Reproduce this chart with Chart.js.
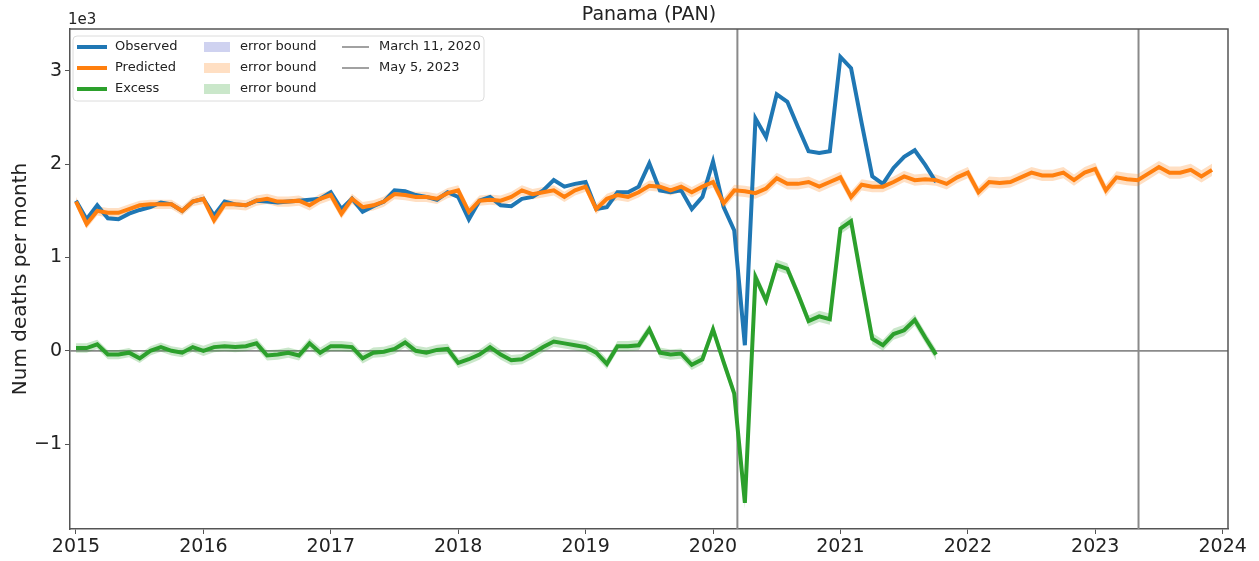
<!DOCTYPE html>
<html>
<head>
<meta charset="utf-8">
<script src="https://cdn.jsdelivr.net/npm/chart.js@4"></script>
<style>
  body { margin: 0; background: #fff; }
  canvas { display: block; }
</style>
</head>
<body>
<canvas id="grafico" width="1259" height="561"></canvas>
<script>
// monthly series, first month = January 2015
const startYear = 2015;
const yearTicks = [2015, 2016, 2017, 2018, 2019, 2020, 2021, 2022, 2023, 2024];
const yTicks = [-1000, 0, 1000, 2000, 3000];

const observed = [
  1610, 1410, 1560, 1420, 1410, 1470, 1510, 1540, 1590, 1570, 1500, 1600,
  1630, 1450, 1600, 1570, 1560, 1610, 1600, 1590, 1600, 1610, 1620, 1630,
  1700, 1520, 1630, 1490, 1550, 1600, 1720, 1710, 1670, 1650, 1620, 1700,
  1650, 1410, 1610, 1650, 1560, 1550, 1630, 1650, 1720, 1830, 1760, 1790,
  1810, 1520, 1540, 1700, 1700, 1760, 2010, 1720, 1700, 1720, 1520, 1650,
  2030, 1540, 1290, 60, 2490, 2290, 2750, 2670, 2400, 2140, 2120, 2140,
  3150, 3030, 2440, 1870, 1790, 1960, 2080, 2150, 1990, 1810
];

const predicted = [
  1600, 1360, 1500, 1480, 1480, 1520, 1560, 1570, 1570, 1570, 1500, 1600,
  1630, 1400, 1570, 1570, 1560, 1610, 1630, 1600, 1600, 1610, 1560, 1630,
  1670, 1470, 1630, 1540, 1560, 1600, 1680, 1670, 1650, 1650, 1630, 1690,
  1720, 1490, 1610, 1620, 1610, 1650, 1720, 1680, 1700, 1720, 1650, 1720,
  1760, 1520, 1630, 1670, 1650, 1700, 1770, 1760, 1720, 1760, 1700, 1760,
  1810, 1580, 1720, 1710, 1690, 1740, 1850, 1790, 1790, 1810, 1760, 1810,
  1860, 1650, 1780, 1760, 1760, 1810, 1870, 1830, 1840, 1830, 1790, 1860,
  1910, 1700, 1810, 1800, 1810, 1860, 1910, 1880, 1880, 1910, 1830, 1910,
  1950, 1720, 1860, 1840, 1830, 1900, 1970, 1910, 1910, 1940, 1870, 1940
];

const excess = [
  30, 30, 70, -40, -40, -20, -80, 0, 40, 0, -20, 40,
  0, 40, 50, 40, 50, 80, -50, -40, -20, -50, 80, -20,
  50, 50, 40, -80, -20, -10, 20, 90, 0, -20, 10, 20,
  -130, -90, -40, 40, -40, -100, -90, -30, 40, 100, 80, 60,
  40, -20, -140, 50, 50, 60, 230, -20, -40, -30, -150, -90,
  230, -120, -460, -1630, 790, 540, 920, 880, 610, 320, 370, 340,
  1310, 1390, 750, 130, 60, 180, 220, 330, 140, -40
];

// half width of the shaded error bounds, one value per year
const observedErr = [15, 15, 15, 15, 15, 15, 20];
const predictedErr = [50, 55, 55, 55, 55, 60, 60, 60, 65];
const excessErr = [50, 55, 55, 55, 55, 60, 60];

const eventLines = [
  { label: "March 11, 2020", x: 2020 + 70 / 366 },
  { label: "May 5, 2023", x: 2023 + 124 / 365 },
];

const fuente = "'DejaVu Sans', sans-serif";

function puntos(valores) {
  return valores.map((v, i) => ({ x: startYear + i / 12, y: v }));
}
function banda(valores, err, signo) {
  return valores.map((v, i) => ({
    x: startYear + i / 12,
    y: v + signo * err[Math.floor(i / 12)],
  }));
}

function lineaSerie(label, valores, color, order) {
  return {
    label,
    data: puntos(valores),
    borderColor: color,
    borderWidth: 4,
    pointRadius: 0,
    fill: false,
    order,
  };
}
function bordeBanda(valores, err, signo, colorFill, order) {
  return {
    label: "error bound",
    data: banda(valores, err, signo),
    borderWidth: 0,
    borderColor: "rgba(0,0,0,0)",
    backgroundColor: colorFill,
    pointRadius: 0,
    fill: signo > 0 ? "-1" : false,
    order,
  };
}

const bandaObs = "rgba(95,105,205,0.30)";
const bandaPred = "rgba(255,127,14,0.25)";
const bandaExc = "rgba(44,160,44,0.25)";

const lineasReferencia = {
  id: "lineasReferencia",
  beforeDatasetsDraw(chart) {
    const { ctx, chartArea, scales } = chart;
    ctx.save();
    ctx.strokeStyle = "#8a8a8a";
    ctx.lineWidth = 1.6;
    const y0 = scales.y.getPixelForValue(0);
    ctx.beginPath();
    ctx.moveTo(chartArea.left, y0);
    ctx.lineTo(chartArea.right, y0);
    ctx.stroke();
    ctx.lineWidth = 2;
    eventLines.forEach((ev) => {
      const x = scales.x.getPixelForValue(ev.x);
      ctx.beginPath();
      ctx.moveTo(x, chartArea.top);
      ctx.lineTo(x, chartArea.bottom);
      ctx.stroke();
    });
    ctx.restore();
  },
  afterDraw(chart) {
    const { ctx, chartArea } = chart;
    ctx.save();
    // marco superior y derecho
    ctx.strokeStyle = "#555";
    ctx.lineWidth = 1.5;
    ctx.beginPath();
    ctx.moveTo(chartArea.left, chartArea.top);
    ctx.lineTo(chartArea.right, chartArea.top);
    ctx.lineTo(chartArea.right, chartArea.bottom);
    ctx.stroke();

    // titulo y multiplicador
    ctx.fillStyle = "#222";
    ctx.textAlign = "center";
    ctx.textBaseline = "middle";
    ctx.font = "19px " + fuente;
    ctx.fillText("Panama (PAN)", (chartArea.left + chartArea.right) / 2, 15);
    ctx.textAlign = "left";
    ctx.font = "15px " + fuente;
    ctx.fillText("1e3", chartArea.left - 2, 20);

    // leyenda
    const lx = chartArea.left + 3, ly = chartArea.top + 7, lw = 411, lh = 65;
    ctx.fillStyle = "rgba(255,255,255,0.85)";
    ctx.strokeStyle = "#dcdcdc";
    ctx.lineWidth = 1;
    ctx.beginPath();
    ctx.roundRect(lx, ly, lw, lh, 4);
    ctx.fill();
    ctx.stroke();

    const filas = [ly + 11, ly + 32, ly + 53];
    ctx.font = "13px " + fuente;
    ctx.textBaseline = "middle";
    const col1 = [
      ["Observed", "#1f77b4"],
      ["Predicted", "#ff7f0e"],
      ["Excess", "#2ca02c"],
    ];
    col1.forEach(([txt, c], k) => {
      ctx.strokeStyle = c;
      ctx.lineWidth = 4;
      ctx.beginPath();
      ctx.moveTo(lx + 4, filas[k]);
      ctx.lineTo(lx + 34, filas[k]);
      ctx.stroke();
      ctx.fillStyle = "#222";
      ctx.fillText(txt, lx + 42, filas[k]);
    });
    [bandaObs, bandaPred, bandaExc].forEach((c, k) => {
      ctx.fillStyle = c;
      ctx.fillRect(lx + 131, filas[k] - 5, 26, 10);
      ctx.fillStyle = "#222";
      ctx.fillText("error bound", lx + 167, filas[k]);
    });
    eventLines.forEach((ev, k) => {
      ctx.strokeStyle = "#8a8a8a";
      ctx.lineWidth = 1.6;
      ctx.beginPath();
      ctx.moveTo(lx + 269, filas[k]);
      ctx.lineTo(lx + 296, filas[k]);
      ctx.stroke();
      ctx.fillStyle = "#222";
      ctx.fillText(ev.label, lx + 306, filas[k]);
    });
    ctx.restore();
  },
};

new Chart(document.getElementById("grafico").getContext("2d"), {
  type: "line",
  data: {
    datasets: [
      lineaSerie("Observed", observed, "#1f77b4", 2),
      lineaSerie("Predicted", predicted, "#ff7f0e", 1),
      lineaSerie("Excess", excess, "#2ca02c", 0),
      bordeBanda(observed, observedErr, -1, bandaObs, 5),
      bordeBanda(observed, observedErr, 1, bandaObs, 5),
      bordeBanda(predicted, predictedErr, -1, bandaPred, 4),
      bordeBanda(predicted, predictedErr, 1, bandaPred, 4),
      bordeBanda(excess, excessErr, -1, bandaExc, 3),
      bordeBanda(excess, excessErr, 1, bandaExc, 3),
    ],
  },
  options: {
    responsive: false,
    animation: false,
    layout: { padding: { top: 29, right: 31, left: 0, bottom: 0 } },
    elements: { line: { tension: 0 } },
    plugins: {
      legend: { display: false },
      tooltip: { enabled: false },
    },
    scales: {
      x: {
        type: "linear",
        min: 2014.953,
        max: 2024.042,
        afterBuildTicks: (scale) => {
          scale.ticks = yearTicks.map((v) => ({ value: v }));
        },
        afterFit: (scale) => {
          scale.height = 32;
        },
        ticks: {
          callback: (v) => String(v),
          font: { family: fuente, size: 19 },
          color: "#222",
          padding: 2,
          maxRotation: 0,
        },
        grid: { drawOnChartArea: false, drawTicks: true, tickLength: 5, color: "#555" },
        border: { display: true, color: "#555", width: 1.5 },
      },
      y: {
        type: "linear",
        min: -1910,
        max: 3450,
        afterBuildTicks: (scale) => {
          scale.ticks = yTicks.map((v) => ({ value: v }));
        },
        afterFit: (scale) => {
          scale.width = 70;
        },
        ticks: {
          callback: (v) => (v < 0 ? "\u2212" + -v / 1000 : String(v / 1000)),
          font: { family: fuente, size: 19 },
          color: "#222",
          padding: 3,
        },
        grid: { drawOnChartArea: false, drawTicks: true, tickLength: 5, color: "#555" },
        border: { display: true, color: "#555", width: 1.5 },
        title: {
          display: true,
          text: "Num deaths per month",
          font: { family: fuente, size: 20 },
          color: "#222",
          padding: { top: 9, bottom: 0 },
        },
      },
    },
  },
  plugins: [lineasReferencia],
});
</script>
</body>
</html>
